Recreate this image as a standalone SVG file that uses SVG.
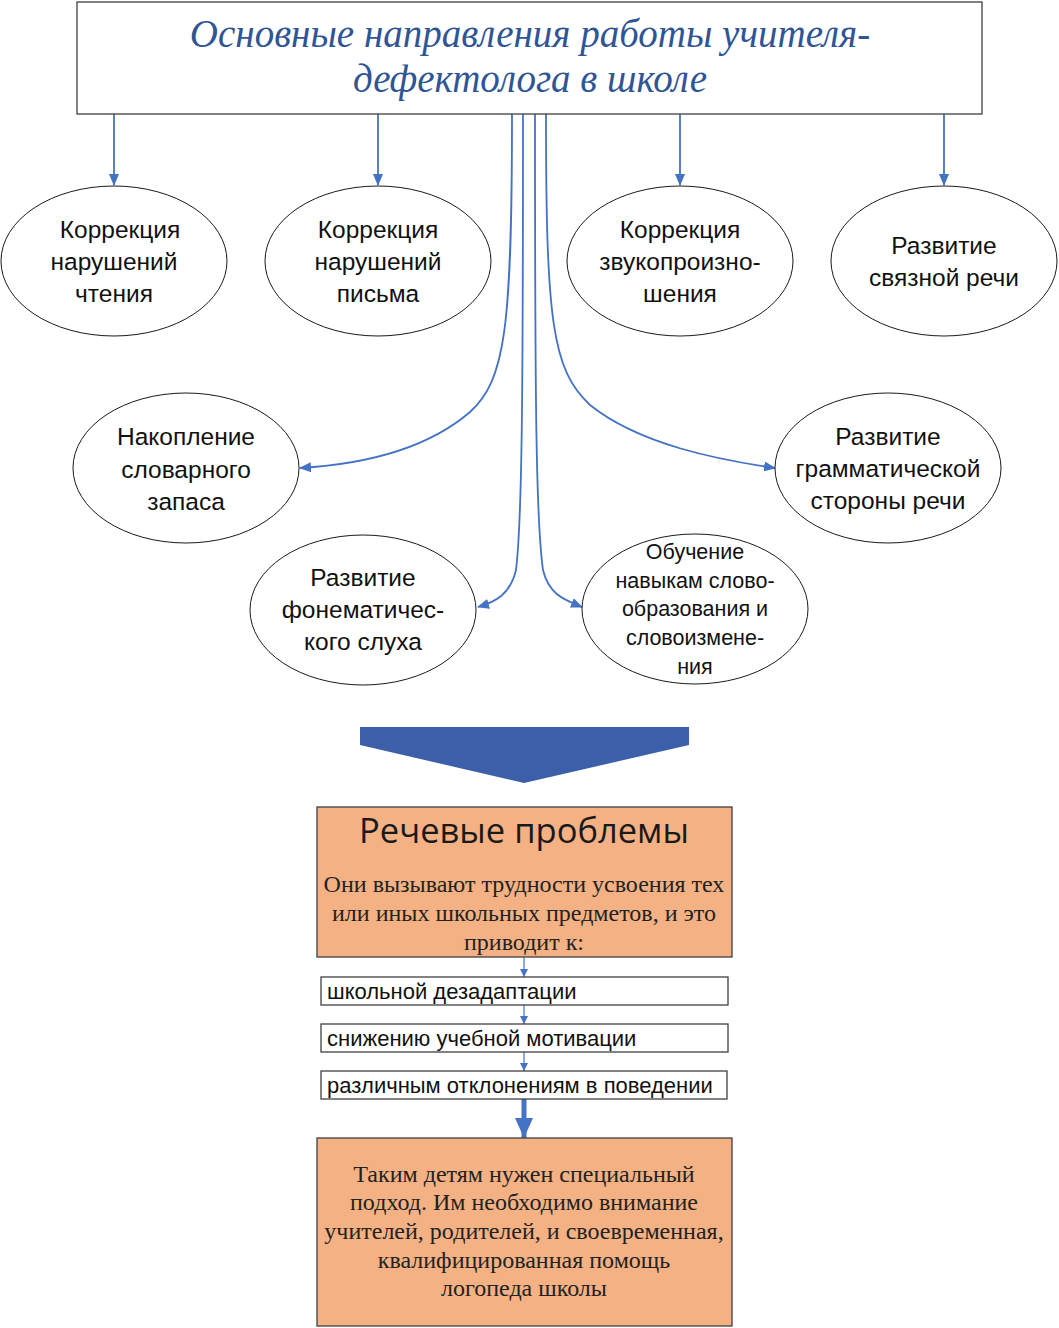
<svg xmlns="http://www.w3.org/2000/svg" width="1059" height="1328" viewBox="0 0 1059 1328">
<style>
.box{fill:#fff;stroke:#404040;stroke-width:1.3}
.ell{fill:#fff;stroke:#1a1a1a;stroke-width:1}
.t{font-family:"Liberation Sans",Arial,sans-serif;font-size:24.5px;fill:#111;text-anchor:middle}
.ts{font-family:"Liberation Sans",Arial,sans-serif;font-size:21.5px;fill:#111;text-anchor:middle}
.tl{font-family:"Liberation Sans",Arial,sans-serif;font-size:22px;fill:#111}
.ser{font-family:"Liberation Serif","Times New Roman",serif;font-size:24px;fill:#222;text-anchor:middle}
.title{font-family:"Liberation Serif","Times New Roman",serif;font-style:italic;font-size:39px;fill:#2F5597;text-anchor:middle}
.or{fill:#F4B183;stroke:#404040;stroke-width:1.3}
.c{fill:none;stroke:#4472C4;stroke-width:1.8}
.cs{fill:none;stroke:#4472C4;stroke-width:1.2}
</style>
<defs>
<marker id="ah" markerUnits="userSpaceOnUse" markerWidth="12" markerHeight="10" refX="11" refY="5" orient="auto">
<path d="M0,0 L12,5 L0,10 Z" fill="#4472C4"/>
</marker>
<marker id="ahs" markerUnits="userSpaceOnUse" markerWidth="8" markerHeight="8" refX="8" refY="4" orient="auto">
<path d="M0,0 L8,4 L0,8 Z" fill="#4472C4"/>
</marker>
<marker id="ahb" markerUnits="userSpaceOnUse" markerWidth="20" markerHeight="18" refX="20" refY="9" orient="auto">
<path d="M0,0 L20,9 L0,18 Z" fill="#4472C4"/>
</marker>
</defs>

<g id="connectors">
<path class="c" d="M114,114 V185" marker-end="url(#ah)"/>
<path class="c" d="M378,114 V185" marker-end="url(#ah)"/>
<path class="c" d="M680,114 V185" marker-end="url(#ah)"/>
<path class="c" d="M944,114 V185" marker-end="url(#ah)"/>
<path class="c" d="M512,114 C512,330 505,380 470,412 C420,455 350,465 300,468" marker-end="url(#ah)"/>
<path class="c" d="M523,114 C523,400 522,520 516,570 C510,595 495,602 478,607" marker-end="url(#ah)"/>
<path class="c" d="M535,114 C535,400 536,520 543,570 C549,595 565,600 582,607" marker-end="url(#ah)"/>
<path class="c" d="M546,114 C546,320 552,370 590,405 C640,445 720,460 775,468" marker-end="url(#ah)"/>
<path class="cs" d="M524,957 V977" marker-end="url(#ahs)"/>
<path class="cs" d="M524,1005 V1024" marker-end="url(#ahs)"/>
<path class="cs" d="M524,1052 V1071" marker-end="url(#ahs)"/>
<path fill="none" stroke="#4472C4" stroke-width="5" d="M524,1099 V1138" marker-end="url(#ahb)"/>
</g>

<g id="title">
<rect class="box" x="77" y="2" width="905" height="112"/>
<text class="title" x="530" y="47">Основные направления работы учителя-</text>
<text class="title" x="530" y="92">дефектолога в школе</text>
</g>

<g id="n1">
<ellipse class="ell" cx="114" cy="261" rx="113" ry="75"/>
<text class="t" x="120" y="238">Коррекция</text>
<text class="t" x="114" y="270">нарушений</text>
<text class="t" x="114" y="302">чтения</text>
</g>
<g id="n2">
<ellipse class="ell" cx="378" cy="261" rx="113" ry="75"/>
<text class="t" x="378" y="238">Коррекция</text>
<text class="t" x="378" y="270">нарушений</text>
<text class="t" x="378" y="302">письма</text>
</g>
<g id="n3">
<ellipse class="ell" cx="680" cy="261" rx="113" ry="75"/>
<text class="t" x="680" y="238">Коррекция</text>
<text class="t" x="680" y="270">звукопроизно-</text>
<text class="t" x="680" y="302">шения</text>
</g>
<g id="n4">
<ellipse class="ell" cx="944" cy="261" rx="113" ry="75"/>
<text class="t" x="944" y="254">Развитие</text>
<text class="t" x="944" y="286">связной речи</text>
</g>
<g id="n5">
<ellipse class="ell" cx="186" cy="468" rx="113" ry="75"/>
<text class="t" x="186" y="445">Накопление</text>
<text class="t" x="186" y="478">словарного</text>
<text class="t" x="186" y="510">запаса</text>
</g>
<g id="n6">
<ellipse class="ell" cx="888" cy="468" rx="113" ry="75"/>
<text class="t" x="888" y="445">Развитие</text>
<text class="t" x="888" y="477">грамматической</text>
<text class="t" x="888" y="509">стороны речи</text>
</g>
<g id="n7">
<ellipse class="ell" cx="363" cy="610" rx="113" ry="75"/>
<text class="t" x="363" y="586">Развитие</text>
<text class="t" x="363" y="618">фонематичес-</text>
<text class="t" x="363" y="650">кого слуха</text>
</g>
<g id="n8">
<ellipse class="ell" cx="695" cy="609" rx="113" ry="75"/>
<text class="ts" x="695" y="559">Обучение</text>
<text class="ts" x="695" y="588">навыкам слово-</text>
<text class="ts" x="695" y="616">образования и</text>
<text class="ts" x="695" y="645">словоизмене-</text>
<text class="ts" x="695" y="674">ния</text>
</g>

<g id="bigarrow">
<polygon points="360,727 689,727 689,745 524,783 360,745" fill="#3B5FA8"/>
</g>

<g id="problems">
<rect class="or" x="317" y="807" width="415" height="150"/>
<text x="524" y="843" font-family="'Open Sans','Liberation Sans',sans-serif" font-size="34.5" fill="#1a1a1a" text-anchor="middle">Речевые проблемы</text>
<text class="ser" x="524" y="892">Они вызывают трудности усвоения тех</text>
<text class="ser" x="524" y="921">или иных школьных предметов, и это</text>
<text class="ser" x="524" y="950">приводит к:</text>
</g>
<g id="b1">
<rect class="box" x="321" y="977" width="407" height="28"/>
<text class="tl" x="327" y="999">школьной дезадаптации</text>
</g>
<g id="b2">
<rect class="box" x="321" y="1024" width="407" height="28"/>
<text class="tl" x="327" y="1046">снижению учебной мотивации</text>
</g>
<g id="b3">
<rect class="box" x="321" y="1071" width="406" height="28"/>
<text class="tl" x="327" y="1093">различным отклонениям в поведении</text>
</g>
<g id="conclusion">
<rect class="or" x="317" y="1138" width="415" height="188"/>
<text class="ser" x="524" y="1182">Таким детям нужен специальный</text>
<text class="ser" x="524" y="1210">подход. Им необходимо внимание</text>
<text class="ser" x="524" y="1239">учителей, родителей, и своевременная,</text>
<text class="ser" x="524" y="1268">квалифицированная помощь</text>
<text class="ser" x="524" y="1296">логопеда школы</text>
</g>
</svg>
